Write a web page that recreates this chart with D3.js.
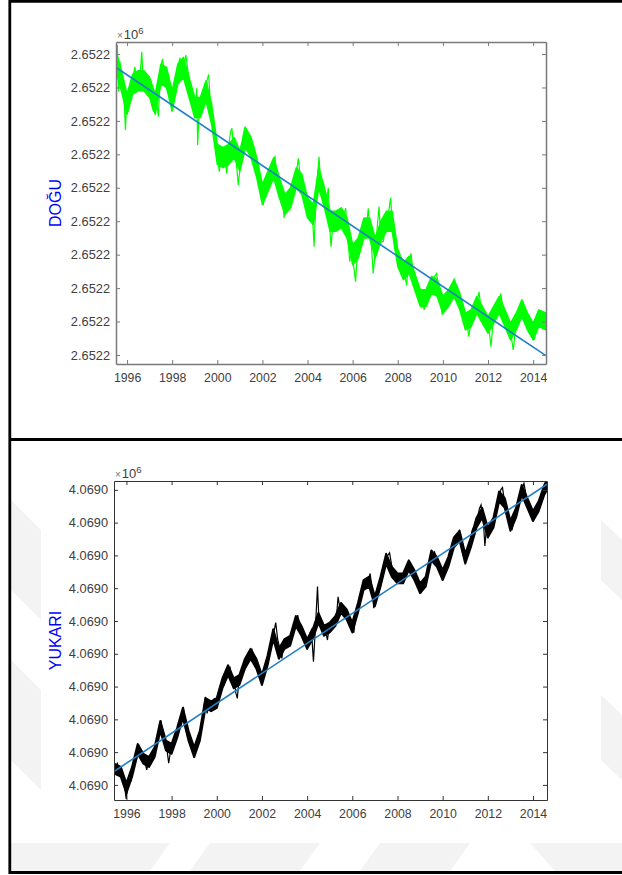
<!DOCTYPE html>
<html>
<head>
<meta charset="utf-8">
<title>DOGU / YUKARI</title>
<style>
  body {
    margin: 0;
    background: #fff;
    font-family: "Liberation Sans", Arial, sans-serif;
  }
</style>
</head>
<body>
<div id="chart"></div>
<script src="https://d3js.org/d3.v7.min.js"></script>
<script>
// ---- data (decimal years; offsets in mm from a base coordinate in m) ----
var yearTicks = [1996, 1998, 2000, 2002, 2004, 2006, 2008, 2010, 2012, 2014];

var eastBase = 2652201.40;
var eastTicksMm = [0, 10, 20, 30, 40, 50, 60, 70, 80, 90];
var eastYears = [1995.51,1995.57,1995.62,1995.69,1995.75,1995.81,1995.87,1995.93,1995.99,
  1996.06,1996.13,1996.21,1996.28,1996.35,1996.43,1996.50,1996.58,1996.65,1996.72,1996.80,1996.87,1996.95,
  1997.02,1997.09,1997.17,1997.24,1997.31,1997.39,1997.46,1997.54,1997.58,1997.64,1997.73,1997.83,1997.91,1997.98,
  1998.05,1998.17,1998.27,1998.35,1998.38,1998.50,1998.61,1998.72,1998.79,1998.87,1998.94,
  1999.01,1999.09,1999.13,1999.20,1999.31,1999.41,1999.53,1999.62,1999.68,1999.75,1999.83,1999.88,1999.94,
  2000.00,2000.09,2000.15,2000.24,2000.34,2000.42,2000.49,2000.59,2000.65,2000.74,2000.83,2000.93,
  2001.04,2001.15,2001.23,2001.30,2001.45,2001.52,2001.60,2001.72,2001.82,2001.92,
  2002.04,2002.13,2002.22,2002.34,2002.44,2002.56,2002.63,2002.72,2002.78,2002.87,2002.96,
  2003.04,2003.15,2003.30,2003.44,2003.59,2003.69,2003.81,2003.96,
  2004.11,2004.20,2004.29,2004.37,2004.43,2004.51,2004.58,2004.70,2004.80,2004.92,2004.99,
  2005.04,2005.14,2005.29,2005.44,2005.59,2005.69,2005.78,2005.87,2005.95,
  2006.04,2006.13,2006.22,2006.32,2006.43,2006.52,2006.60,2006.69,2006.81,2006.91,
  2007.02,2007.11,2007.17,2007.25,2007.36,2007.46,2007.58,2007.68,2007.76,2007.83,2007.90,
  2008.05,2008.20,2008.32,2008.39,2008.47,2008.59,2008.69,2008.83,2008.98,
  2009.09,2009.17,2009.28,2009.43,2009.57,2009.72,2009.87,2009.97,
  2010.09,2010.24,2010.39,2010.50,2010.61,2010.71,2010.83,2010.98,
  2011.08,2011.15,2011.27,2011.39,2011.49,2011.60,2011.71,2011.86,
  2012.01,2012.13,2012.23,2012.38,2012.48,2012.57,2012.67,2012.82,2012.97,
  2013.12,2013.22,2013.34,2013.46,2013.56,2013.63,2013.78,2013.93,
  2014.05,2014.15,2014.30,2014.40,2014.49,2014.56];
var eastMm = [89.7,92.7,78.8,87.7,82.8,80.8,75.8,67.3,77.8,
  72.8,78.8,80.8,83.7,86.2,79.8,82.8,83.7,90.7,81.8,83.7,79.8,82.8,
  77.8,74.8,72.8,76.8,75.8,71.3,82.8,87.7,88.5,83.7,85.7,80.8,78.8,72.8,
  75.8,82.8,86.7,88.9,83.7,85.7,89.7,83.7,78.8,74.8,76.8,
  70.8,79.8,62.8,73.8,75.8,76.8,81.8,83.9,76.8,72.8,68.8,66.8,62.8,
  59.8,54.8,59.8,61.8,58.8,54.3,61.8,66.8,67.8,59.8,58.8,50.8,
  57.8,65.8,68.3,62.8,65.8,59.8,62.8,57.8,53.8,51.8,
  44.9,50.8,52.8,53.8,57.8,59.3,53.8,51.8,48.4,49.9,40.9,
  46.9,45.9,47.9,50.8,58.8,52.8,48.9,45.9,
  39.9,43.9,32.4,45.9,52.8,59.3,50.8,48.9,43.9,49.9,37.9,
  32.4,39.9,39.9,38.9,41.4,43.9,35.9,27.9,31.9,
  26.9,21.9,31.9,34.9,37.9,39.9,36.9,43.9,34.9,24.4,
  31.9,39.9,44.4,33.9,33.9,39.9,41.9,46.9,39.9,33.9,30.9,
  27.9,26.9,23.9,20.9,26.9,30.4,23.9,21.9,17.9,
  16.0,13.5,17.9,19.9,22.9,24.4,17.9,12.0,
  16.9,16.0,19.9,22.6,19.9,17.9,14.0,11.0,
  9.0,5.5,11.0,14.0,15.0,18.9,13.0,11.0,
  10.0,2.5,10.0,12.0,16.0,18.4,13.0,10.0,8.0,
  1.5,8.0,10.0,14.0,16.0,12.0,10.0,8.0,
  4.5,10.0,12.0,8.0,12.0,8.0];
// daily scatter band (min / max per quarter year)
var eastBandYears = [1995.51,1995.75,1996.00,1996.25,1996.50,1996.75,1997.00,1997.25,1997.50,1997.75,
  1998.00,1998.25,1998.50,1998.75,1999.00,1999.25,1999.50,1999.75,2000.00,2000.25,2000.50,2000.75,
  2001.00,2001.25,2001.50,2001.75,2002.00,2002.25,2002.50,2002.75,2003.00,2003.25,2003.50,2003.75,
  2004.00,2004.25,2004.50,2004.75,2005.00,2005.25,2005.50,2005.75,2006.00,2006.25,2006.50,2006.75,
  2007.00,2007.25,2007.50,2007.75,2008.00,2008.25,2008.50,2008.75,2009.00,2009.25,2009.50,2009.75,
  2010.00,2010.25,2010.50,2010.75,2011.00,2011.25,2011.50,2011.75,2012.00,2012.25,2012.50,2012.75,
  2013.00,2013.25,2013.50,2013.75,2014.00,2014.25,2014.57];
var eastBandLo = [85,79,72,78,79,79,77,72,81,80,73,81,83,77,71,71,76,69,57,56,57,59,
  55,62,59,53,45,49,53,47,42,44,50,48,41,39,50,44,37,37,38,35,27,29,35,35,
  29,34,37,37,26.5,22.5,24.5,19.5,14.5,14.5,18.5,17.5,12.5,14.5,17.5,13.5,
  7.5,8.5,12.5,9.5,6.5,9.5,12.5,8.5,4.5,7.5,11.5,7.5,4.5,8.5,7.5];
var eastBandHi = [91,85,78,84,85,85,83,78,87,86,79,87,89,83,77,77,82,75,63,62,63,65,
  61,68,65,59,51,55,59,53,48,50,56,54,47,45,56,50,43,43,44,41,33,35,41,41,
  35,40,43,43,31.5,27.5,29.5,24.5,19.5,19.5,23.5,22.5,17.5,19.5,22.5,18.5,
  12.5,13.5,17.5,14.5,11.5,14.5,17.5,13.5,9.5,12.5,16.5,12.5,9.5,13.5,12.5];
var eastFitYears = [1995.51, 2014.57];
var eastFitMm = [86.0, -0.2];

var upBase = 4069012.30;
var upTicksMm = [0, 10, 20, 30, 40, 50, 60, 70, 80, 90];
var upYears = [1995.46,1995.53,1995.60,1995.67,1995.76,1995.85,1995.93,1995.99,
  1996.06,1996.13,1996.20,1996.28,1996.37,1996.46,1996.55,1996.64,1996.72,1996.81,1996.90,1996.99,
  1997.08,1997.16,1997.25,1997.34,1997.43,1997.52,1997.57,1997.64,1997.71,1997.78,1997.87,1997.95,
  1998.04,1998.13,1998.22,1998.31,1998.39,1998.46,1998.53,1998.60,1998.69,1998.80,1998.90,
  1999.01,1999.10,1999.18,1999.27,1999.36,1999.45,1999.50,1999.57,1999.68,1999.80,1999.89,1999.98,
  2000.06,2000.15,2000.24,2000.33,2000.42,2000.50,2000.59,2000.68,2000.77,2000.85,2000.91,2000.98,
  2001.07,2001.15,2001.26,2001.36,2001.47,2001.56,2001.65,2001.73,2001.82,2001.91,
  2002.00,2002.08,2002.17,2002.26,2002.35,2002.44,2002.52,2002.61,2002.70,2002.79,2002.88,2002.96,
  2003.05,2003.14,2003.23,2003.31,2003.40,2003.49,2003.58,2003.67,2003.75,2003.84,2003.93,
  2004.02,2004.11,2004.19,2004.28,2004.37,2004.46,2004.51,2004.60,2004.70,2004.81,2004.90,2004.98,
  2005.09,2005.20,2005.30,2005.37,2005.44,2005.55,2005.65,2005.76,2005.86,2005.97,
  2006.07,2006.14,2006.25,2006.35,2006.46,2006.57,2006.67,2006.79,2006.88,2006.95,
  2007.06,2007.16,2007.27,2007.37,2007.48,2007.58,2007.65,2007.73,2007.80,2007.87,2007.97,
  2008.15,2008.32,2008.41,2008.50,2008.59,2008.67,2008.76,2008.85,2008.96,
  2009.06,2009.17,2009.27,2009.38,2009.47,2009.55,2009.64,2009.73,2009.82,2009.90,
  2010.01,2010.12,2010.22,2010.33,2010.43,2010.54,2010.64,2010.73,2010.82,2010.91,2010.99,
  2011.10,2011.21,2011.31,2011.42,2011.52,2011.63,2011.70,2011.80,2011.87,2011.94,
  2012.05,2012.15,2012.26,2012.36,2012.47,2012.58,2012.65,2012.75,2012.86,2012.96,
  2013.07,2013.17,2013.28,2013.38,2013.49,2013.60,2013.68,2013.77,2013.88,2013.98,
  2014.09,2014.19,2014.30,2014.40,2014.51,2014.60];
var upMm = [6.1,3.6,6.8,3.0,5.1,0.5,-1.0,-4.3,
  -0.5,2.5,1.0,4.6,7.6,10.2,11.9,9.1,8.6,7.1,4.6,7.6,
  6.6,8.6,10.2,13.2,15.8,19.8,17.8,15.8,13.7,11.7,6.6,10.2,
  11.7,13.7,15.8,17.8,18.8,22.4,23.4,18.8,16.8,14.7,12.2,
  10.2,12.7,13.7,16.3,19.8,24.9,26.9,21.8,24.9,23.9,26.4,23.9,
  27.9,30.0,31.0,30.5,34.0,35.1,35.8,32.0,31.5,27.9,26.4,32.0,
  34.0,35.1,37.1,39.1,40.1,41.2,39.1,37.1,35.1,34.0,
  32.0,34.0,36.1,38.1,40.1,43.2,46.2,49.5,44.2,41.7,38.6,42.2,
  44.2,43.2,44.2,45.2,46.7,49.3,51.8,49.3,47.3,45.2,44.2,
  42.2,46.2,47.3,37.6,48.3,60.5,52.3,50.3,48.8,47.3,44.2,48.3,
  48.8,49.3,51.3,57.4,54.4,53.9,53.4,52.3,51.3,49.8,
  46.4,51.3,53.9,55.4,60.0,62.5,61.5,64.5,59.5,53.9,
  57.4,60.5,62.5,65.5,69.1,70.1,70.8,67.6,64.5,62.5,63.0,
  63.0,63.5,66.1,67.4,66.6,66.1,64.5,63.5,61.5,
  58.9,61.0,62.5,66.1,68.6,70.1,71.1,69.1,67.1,65.5,
  64.0,65.0,67.1,69.6,72.7,74.7,76.2,77.5,72.7,70.6,69.1,
  70.6,72.7,77.7,79.3,80.8,84.3,85.4,80.8,72.9,78.3,
  76.2,77.7,79.8,84.9,87.4,90.1,90.7,85.9,83.3,80.8,
  77.7,80.8,82.3,86.9,89.9,92.0,88.9,86.4,83.8,82.8,
  81.8,83.8,85.9,87.9,89.9,91.5];
var upBandYears = [1995.46,1995.75,1996.00,1996.25,1996.50,1996.75,1997.00,1997.25,1997.50,1997.75,
  1998.00,1998.25,1998.50,1998.75,1999.00,1999.25,1999.50,1999.75,2000.00,2000.25,2000.50,2000.75,
  2001.00,2001.25,2001.50,2001.75,2002.00,2002.25,2002.50,2002.75,2003.00,2003.25,2003.50,2003.75,
  2004.00,2004.25,2004.50,2004.75,2005.00,2005.25,2005.50,2005.75,2006.00,2006.25,2006.50,2006.75,
  2007.00,2007.25,2007.50,2007.75,2008.00,2008.25,2008.50,2008.75,2009.00,2009.25,2009.50,2009.75,
  2010.00,2010.25,2010.50,2010.75,2011.00,2011.25,2011.50,2011.75,2012.00,2012.25,2012.50,2012.75,
  2013.00,2013.25,2013.50,2013.75,2014.00,2014.25,2014.50,2014.62];
var upBandLo = [3.5,2.5,-2.5,2.5,9.5,6.5,5.5,8.5,16.5,10.5,9.5,14.5,20.5,13.5,8.5,13.5,23.5,22.5,
  23.5,29.5,33.5,29.5,30.5,35.5,38.5,35.5,30.5,36.5,44.5,38.5,41.5,42.5,48.5,45.5,41.5,44.5,
  49.5,45.5,46.5,48.5,52.5,50.5,46.5,52.5,59.5,60.5,54.5,60.5,67.5,63.5,61.5,61.5,65.5,62.5,
  58.5,60.5,68.5,66.5,62.5,66.5,72.5,74.5,67.5,72.5,78.5,81.5,75.5,78.5,86.5,84.5,77.5,81.5,
  88.5,84.5,80.5,83.5,88.5,90.0];
var upBandHi = [6.5,5.5,0.5,5.5,12.5,9.5,8.5,11.5,19.5,13.5,12.5,17.5,23.5,16.5,11.5,16.5,26.5,25.5,
  26.5,32.5,36.5,32.5,33.5,38.5,41.5,38.5,33.5,39.5,47.5,41.5,44.5,45.5,51.5,48.5,44.5,47.5,
  52.5,48.5,49.5,51.5,55.5,53.5,49.5,55.5,62.5,63.5,57.5,63.5,70.5,66.5,64.5,64.5,68.5,65.5,
  61.5,63.5,71.5,69.5,65.5,69.5,75.5,77.5,70.5,75.5,81.5,84.5,78.5,81.5,89.5,87.5,80.5,84.5,
  91.5,87.5,83.5,86.5,91.5,93.0];
var upFitYears = [1995.45, 2014.62];
var upFitMm = [4.1, 91.7];

// ---- page ----
var width = 622,
  height = 875;

var svg = d3.select("#chart").append("svg")
  .attr("width", width)
  .attr("height", height)
  .style("display", "block");

svg.append("rect").attr("width", width).attr("height", height).attr("fill", "#fff");

// faint background watermark stripes around the lower figure
var watermark = [
  [[11, 500], [41, 530], [41, 620], [11, 590]],
  [[11, 660], [41, 690], [41, 790], [11, 760]],
  [[601, 520], [622, 540], [622, 600], [601, 580]],
  [[601, 695], [622, 715], [622, 780], [601, 760]],
  [[11, 843], [170, 843], [150, 871], [11, 871]],
  [[210, 843], [320, 843], [300, 871], [190, 871]],
  [[380, 843], [470, 843], [450, 871], [360, 871]],
  [[530, 843], [622, 843], [622, 871], [555, 871]]
];
svg.selectAll("polygon.wm")
  .data(watermark)
  .enter().append("polygon")
  .attr("class", "wm")
  .attr("points", function(d) { return d.join(" "); })
  .attr("fill", "#f3f3f3");

// page frame lines
var frame = [
  [9, 1.4, 622, 1.4],
  [9.8, 0, 9.8, 874],
  [9, 439.5, 622, 439.5],
  [9, 872.5, 622, 872.5]
];
svg.selectAll("line.frame")
  .data(frame)
  .enter().append("line")
  .attr("class", "frame")
  .attr("x1", function(d) { return d[0]; })
  .attr("y1", function(d) { return d[1]; })
  .attr("x2", function(d) { return d[2]; })
  .attr("y2", function(d) { return d[3]; })
  .attr("stroke", "#000")
  .attr("stroke-width", 2.8);

// white figure area of the lower plot
svg.append("rect")
  .attr("x", 41).attr("y", 442).attr("width", 560).attr("height", 401)
  .attr("fill", "#fff");

function drawPanel(p) {
  var x = d3.scaleLinear().domain(p.xDomain).range([p.left, p.right]);
  var y = d3.scaleLinear()
    .domain([p.base + p.yDomainMm[0] / 1000, p.base + p.yDomainMm[1] / 1000])
    .range([p.bottom, p.top]);
  var ym = function(mm) { return y(p.base + mm / 1000); };

  var g = svg.append("g");

  g.append("clipPath").attr("id", p.id + "-clip")
    .append("rect")
    .attr("x", p.left).attr("y", p.top)
    .attr("width", p.right - p.left).attr("height", p.bottom - p.top);

  var plot = g.append("g").attr("clip-path", "url(#" + p.id + "-clip)");

  // scatter band
  var band = d3.range(p.bandYears.length).map(function(i) {
    return [p.bandYears[i], p.bandLo[i], p.bandHi[i]];
  });
  plot.append("path")
    .attr("d", d3.area()
      .x(function(d) { return x(d[0]); })
      .y0(function(d) { return ym(d[1]); })
      .y1(function(d) { return ym(d[2]); })(band))
    .attr("fill", p.color)
    .attr("stroke", p.color)
    .attr("stroke-width", p.bandStroke)
    .attr("stroke-linejoin", "round");

  var line = d3.line()
    .x(function(d) { return x(d[0]); })
    .y(function(d) { return ym(d[1]); });

  plot.append("path")
    .attr("d", line(d3.zip(p.years, p.mm)))
    .attr("fill", "none")
    .attr("stroke", p.color)
    .attr("stroke-width", p.lineWidth);
  plot.append("path")
    .attr("d", line(d3.zip(p.fitYears, p.fitMm)))
    .attr("fill", "none")
    .attr("stroke", "#1f7fc8")
    .attr("stroke-width", 1.6);

  var yTicks = p.ticksMm.map(function(m) { return p.base + m / 1000; });
  var fmtY = function(v) { return (v / 1e6).toFixed(4); };

  function style(ax) {
    ax.attr("font-family", "'Liberation Sans', Arial, sans-serif");
    ax.select(".domain").attr("stroke", p.axisColor).attr("stroke-width", p.axisWidth);
    ax.selectAll(".tick line").attr("stroke", p.axisColor);
    ax.selectAll(".tick text").attr("fill", "#404040");
  }

  g.append("g").attr("transform", "translate(0," + p.bottom + ")")
    .call(d3.axisBottom(x).tickValues(yearTicks).tickFormat(d3.format("d"))
      .tickSizeInner(-4).tickSizeOuter(0).tickPadding(9.5))
    .attr("font-size", 12.3)
    .call(style);
  g.append("g").attr("transform", "translate(0," + p.top + ")")
    .call(d3.axisTop(x).tickValues(yearTicks).tickFormat("")
      .tickSizeInner(-4).tickSizeOuter(0))
    .call(style);
  g.append("g").attr("transform", "translate(" + p.left + ",0)")
    .call(d3.axisLeft(y).tickValues(yTicks).tickFormat(fmtY)
      .tickSizeInner(-4).tickSizeOuter(0).tickPadding(6))
    .attr("font-size", 12.8)
    .call(style);
  g.append("g").attr("transform", "translate(" + p.right + ",0)")
    .call(d3.axisRight(y).tickValues(yTicks).tickFormat("")
      .tickSizeInner(-4).tickSizeOuter(0))
    .call(style);

  // exponent label
  var ex = g.append("text")
    .attr("x", p.left + 1)
    .attr("y", p.top - 3.5)
    .attr("font-family", "'Liberation Sans', Arial, sans-serif");
  ex.append("tspan").attr("font-size", 10).attr("fill", "#777").text("\u00d7");
  ex.append("tspan").attr("font-size", 13).attr("fill", "#404040").attr("dx", 1).text("10");
  ex.append("tspan").attr("font-size", 9.5).attr("fill", "#404040").attr("dy", -5).text("6");

  // axis title
  g.append("text")
    .attr("transform", "translate(55," + (p.top + p.bottom) / 2 + ") rotate(-90)")
    .attr("text-anchor", "middle")
    .attr("dominant-baseline", "central")
    .attr("font-size", 16)
    .attr("fill", "#0000ff")
    .text(p.title);
}

drawPanel({
  id: "east",
  title: "DO\u011eU",
  left: 116, right: 546, top: 42, bottom: 364,
  xDomain: [1995.51, 2014.57],
  yDomainMm: [-2.7, 93.6],
  base: eastBase,
  ticksMm: eastTicksMm,
  years: eastYears,
  mm: eastMm,
  bandYears: eastBandYears,
  bandLo: eastBandLo,
  bandHi: eastBandHi,
  bandStroke: 1.5,
  lineWidth: 1.2,
  fitYears: eastFitYears,
  fitMm: eastFitMm,
  color: "#00ff00",
  axisColor: "#7a7a7a",
  axisWidth: 1.5
});

drawPanel({
  id: "up",
  title: "YUKARI",
  left: 114, right: 547, top: 481, bottom: 800,
  xDomain: [1995.45, 2014.62],
  yDomainMm: [-4.6, 92.7],
  base: upBase,
  ticksMm: upTicksMm,
  years: upYears,
  mm: upMm,
  bandYears: upBandYears,
  bandLo: upBandLo,
  bandHi: upBandHi,
  bandStroke: 2,
  lineWidth: 1.2,
  fitYears: upFitYears,
  fitMm: upFitMm,
  color: "#000",
  axisColor: "#333",
  axisWidth: 1
});
</script>
</body>
</html>
